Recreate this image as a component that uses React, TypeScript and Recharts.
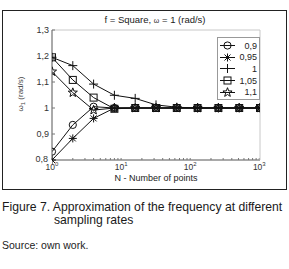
import { LineChart, Line, XAxis, YAxis, Legend } from "recharts";

// N - number of points (powers of two)
const nPoints = [1, 2, 4, 8, 16, 32, 64, 128, 256, 512, 1024];
// ω1 estimates for each starting frequency
const w090 = [0.832, 0.935, 1.005, 1.0, 1.0, 1.0, 1.0, 1.0, 1.0, 1.0, 1.0];
const w095 = [0.8, 0.883, 0.96, 1.0, 1.0, 1.0, 1.0, 1.0, 1.0, 1.0, 1.0];
const w100 = [1.195, 1.163, 1.092, 1.049, 1.037, 1.012, 1.003, 1.0, 1.0, 1.0, 1.0];
const w105 = [1.195, 1.108, 1.04, 0.997, 1.0, 1.0, 1.0, 1.0, 1.0, 1.0, 1.0];
const w110 = [1.14, 1.059, 0.992, 1.0, 1.0, 1.0, 1.0, 1.0, 1.0, 1.0, 1.0];

const seriesLabels = ["0,9", "0,95", "1", "1,05", "1,1"];
const yTicks = [0.8, 0.9, 1, 1.1, 1.2, 1.3];
const xMajor = [1, 10, 100, 1000];
const xMinor = [1, 2, 3, 4, 5, 6, 7, 8, 9, 10, 20, 30, 40, 50, 60, 70, 80, 90, 100, 200, 300, 400, 500, 600, 700, 800, 900, 1000];

type Shape = "circle" | "asterisk" | "plus" | "square" | "star";
const SERIES: { key: string; label: string; shape: Shape; values: number[] }[] = [
  { key: "w090", label: seriesLabels[0], shape: "circle", values: w090 },
  { key: "w095", label: seriesLabels[1], shape: "asterisk", values: w095 },
  { key: "w100", label: seriesLabels[2], shape: "plus", values: w100 },
  { key: "w105", label: seriesLabels[3], shape: "square", values: w105 },
  { key: "w110", label: seriesLabels[4], shape: "star", values: w110 },
];

const data = nPoints.map((n, i) => {
  const row: Record<string, number> = { n };
  SERIES.forEach((s) => (row[s.key] = s.values[i]));
  return row;
});

const INK = "#111";
const FONT = "'Liberation Sans', Arial, sans-serif";

function starPoints(cx: number, cy: number, ro: number, ri: number) {
  const pts: string[] = [];
  for (let k = 0; k < 10; k++) {
    const r = k % 2 === 0 ? ro : ri;
    const a = -Math.PI / 2 + (k * Math.PI) / 5;
    pts.push(`${cx + r * Math.cos(a)},${cy + r * Math.sin(a)}`);
  }
  return pts.join(" ");
}

function Marker({ cx, cy, shape }: { cx: number; cy: number; shape: Shape }) {
  const p = { fill: "none", stroke: INK, strokeWidth: 1 };
  if (shape === "circle") return <circle cx={cx} cy={cy} r={3.6} {...p} />;
  if (shape === "square") return <rect x={cx - 3.5} y={cy - 3.5} width={7} height={7} {...p} />;
  if (shape === "plus")
    return <path d={`M${cx - 4.5},${cy}H${cx + 4.5}M${cx},${cy - 4.5}V${cy + 4.5}`} {...p} />;
  if (shape === "asterisk")
    return (
      <path
        d={`M${cx - 4},${cy}H${cx + 4}M${cx},${cy - 4}V${cy + 4}M${cx - 3},${cy - 3}L${cx + 3},${cy + 3}M${cx - 3},${cy + 3}L${cx + 3},${cy - 3}`}
        {...p}
      />
    );
  return <polygon points={starPoints(cx, cy, 4.8, 2)} {...p} />;
}

function XTick(props: any) {
  const { x, y, payload } = props;
  const v = payload.value as number;
  const exp = Math.round(Math.log10(v));
  if (!xMajor.includes(v)) return <g />;
  return (
    <text x={x} y={y} dy={4} textAnchor="middle" fontSize={8.5} fill="#333" fontFamily={FONT}>
      <tspan>10</tspan>
      <tspan dy={-4} fontSize={6}>
        {exp}
      </tspan>
    </text>
  );
}

// lowest label is nudged up a little so it clears the 10^0 label
function YTick(props: any) {
  const { x, y, payload } = props;
  const v = payload.value as number;
  const low = v === yTicks[0];
  return (
    <text x={low ? x - 1 : x} y={y} dy={low ? 1.5 : 3} textAnchor="end" fontSize={9} fill="#333" fontFamily={FONT}>
      {String(v).replace(".", ",")}
    </text>
  );
}

function LegendBox() {
  return (
    <div
      style={{
        border: "1px solid #999",
        background: "#fff",
        width: 41,
        padding: "2px 0 1px 0",
        fontFamily: FONT,
        fontSize: 9,
        color: "#222",
      }}
    >
      {SERIES.map((s) => (
        <div key={s.key} style={{ display: "flex", alignItems: "center", height: 11.6 }}>
          <svg width={18} height={11} style={{ marginLeft: 1 }}>
            <line x1={1} y1={5.5} x2={16} y2={5.5} stroke={INK} strokeWidth={1} />
            <Marker cx={8.5} cy={5.5} shape={s.shape} />
          </svg>
          <span style={{ flex: 1, textAlign: "right", paddingRight: 2 }}>{s.label}</span>
        </div>
      ))}
    </div>
  );
}

export default function App() {
  return (
    <div style={{ position: "absolute", left: 0, top: 0, width: 289, height: 269, background: "#fff", fontFamily: FONT }}>
      <div style={{ position: "absolute", left: 2, top: 10, width: 283, height: 178, border: "1px solid #222" }} />
      <div style={{ position: "absolute", left: 0, top: 0 }}>
        <LineChart width={289} height={190} data={data} margin={{ top: 29, right: 28, bottom: 16, left: 22 }}>
          <XAxis
            dataKey="n"
            type="number"
            scale="log"
            domain={[1, 1024]}
            allowDataOverflow
            ticks={xMinor}
            interval={0}
            tick={<XTick />}
            tickSize={-2}
            tickMargin={8}
            height={14}
            axisLine={{ stroke: "#555" }}
            tickLine={{ stroke: "#777" }}
          />
          <XAxis
            xAxisId="top"
            orientation="top"
            type="number"
            scale="log"
            domain={[1, 1024]}
            allowDataOverflow
            ticks={xMinor}
            interval={0}
            tick={() => <g />}
            tickSize={-2}
            height={1}
            axisLine={{ stroke: "#c8c8c8" }}
            tickLine={{ stroke: "#aaa" }}
          />
          <YAxis
            type="number"
            domain={[0.8, 1.3]}
            ticks={yTicks}
            interval={0}
            tickSize={-3}
            tickMargin={6}
            width={30}
            tick={<YTick />}
            axisLine={{ stroke: "#555" }}
            tickLine={{ stroke: "#777" }}
          />
          <YAxis
            yAxisId="r"
            orientation="right"
            type="number"
            domain={[0.8, 1.3]}
            ticks={yTicks}
            interval={0}
            tickSize={-3}
            width={1}
            tick={() => <g />}
            axisLine={{ stroke: "#c8c8c8" }}
            tickLine={{ stroke: "#aaa" }}
          />
          <Legend
            layout="horizontal"
            verticalAlign="middle"
            align="center"
            content={() => <LegendBox />}
            wrapperStyle={{ position: "absolute", left: 217, top: 37, width: "auto" }}
          />
          {SERIES.map((s) => (
            <Line
              key={s.key}
              dataKey={s.key}
              stroke={INK}
              strokeWidth={1}
              isAnimationActive={false}
              dot={(d: any) => <Marker key={`${s.key}-${d.index}`} cx={d.cx} cy={d.cy} shape={s.shape} />}
              activeDot={false}
            />
          ))}
        </LineChart>
      </div>
      <div style={{ position: "absolute", left: 0, width: 310, top: 14, textAlign: "center", fontSize: 9.5, color: "#222" }}>
        f = Square, <span style={{ fontSize: 7 }}>ω</span> = 1 (rad/s)
      </div>
      <div
        style={{
          position: "absolute",
          left: 21,
          top: 94,
          transform: "translate(-50%, -50%) rotate(-90deg)",
          fontSize: 8,
          color: "#444",
          whiteSpace: "nowrap",
        }}
      >
        ω<sub style={{ fontSize: 6 }}>1</sub> (rad/s)
      </div>
      <div
        style={{
          position: "absolute",
          left: 0,
          width: 312,
          top: 174,
          textAlign: "center",
          fontSize: 9,
          lineHeight: "9px",
          color: "#222",
        }}
      >
        N - Number of points
      </div>
      <div style={{ position: "absolute", left: 2, top: 201, fontSize: 12.2, color: "#1a1a1a", lineHeight: "13px", whiteSpace: "nowrap" }}>
        Figure 7. Approximation of the frequency at different
        <br />
        <span style={{ paddingLeft: 52 }}>sampling rates</span>
      </div>
      <div style={{ position: "absolute", left: 2, top: 239, fontSize: 10.5, color: "#222" }}>Source: own work.</div>
    </div>
  );
}
